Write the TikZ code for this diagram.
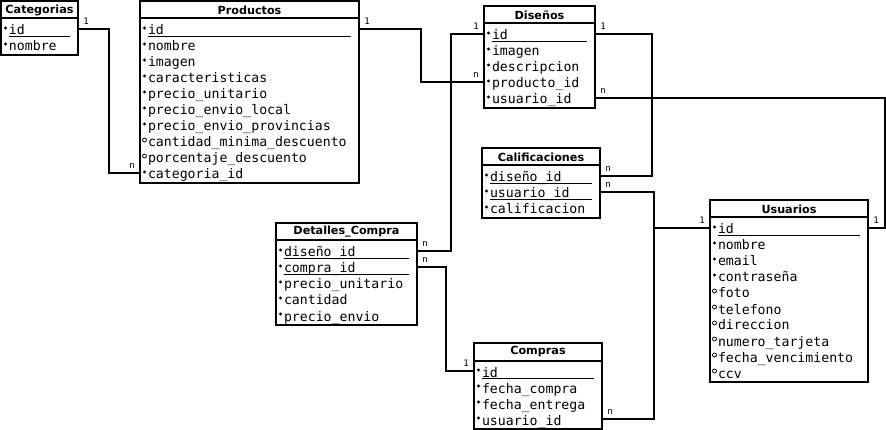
\documentclass[tikz,border=0pt]{standalone}
\usepackage{fontspec}
\newfontfamily\monof{DejaVu Sans Mono}
\newfontfamily\titlef{DejaVu Sans}
\usetikzlibrary{calc}
\tikzset{
 tbox/.style={draw, line width=2pt, inner sep=0pt, outer sep=0pt, anchor=north west, fill=white},
 ttl/.style={font=\titlef\bfseries\fontsize{11.2}{13}\selectfont, inner sep=0pt},
 erow/.style={anchor=west, inner sep=0pt, outer sep=0pt, text height=14pt, text depth=2pt, font=\monof\fontsize{13.2}{16}\selectfont},
 hline/.style={line width=2pt},
 uline/.style={line width=1pt},
 conn/.style={line width=2pt},
 card/.style={font=\monof\fontsize{9}{9}\selectfont, inner sep=0pt},
 cardR/.style={card, anchor=base west, xshift=4.3pt, yshift=4.3pt},
 cardL/.style={card, anchor=base east, xshift=-4.3pt, yshift=4.3pt},
}
\newcommand\etable[6]{% name, x, y, width, height, title
  \node[tbox, minimum width=#4pt, minimum height=#5pt] (#1) at (#2,#3) {};
  \draw[hline] ($(#1.north west)+(0,17.5)$) -- ($(#1.north east)+(0,17.5)$);
  \node[ttl] (#1-h) at ($(#1.north)+(0,9)$) {#6};
}
\newcommand\rowpk[4]{%
  \node[erow] (#1) at ($(#2.north west)+(8,28+16*#3)$) {#4};
  \fill ($(#2.north west)+(4.5,27+16*#3)$) circle (1.7pt);
  \draw[uline] ($(#2.north west)+(8,35.5+16*#3)$) -- ($(#2.north east)+(-8,35.5+16*#3)$);
}
\newcommand\rowf[4]{%
  \node[erow] (#1) at ($(#2.north west)+(8,28+16*#3)$) {#4};
  \fill ($(#2.north west)+(4.5,27+16*#3)$) circle (1.7pt);
}
\newcommand\rowo[4]{%
  \node[erow] (#1) at ($(#2.north west)+(8,28+16*#3)$) {#4};
  \draw[line width=0.75pt] ($(#2.north west)+(4.5,27+16*#3)$) circle (2pt);
}
\begin{document}
\begin{tikzpicture}[x=1pt,y=-1pt]
\useasboundingbox (0,0) rectangle (886,430);

% Categorias
\etable{cat}{1}{1}{77}{54}{Categorias}
\rowpk{cat-id}{cat}{0}{id}
\rowf{cat-nombre}{cat}{1}{nombre}

% Productos
\etable{prod}{140}{1}{219}{182}{Productos}
\rowpk{prod-id}{prod}{0}{id}
\rowf{prod-nombre}{prod}{1}{nombre}
\rowf{prod-imagen}{prod}{2}{imagen}
\rowf{prod-carac}{prod}{3}{caracteristicas}
\rowf{prod-precio}{prod}{4}{precio\_unitario}
\rowf{prod-envlocal}{prod}{5}{precio\_envio\_local}
\rowf{prod-envprov}{prod}{6}{precio\_envio\_provincias}
\rowo{prod-cantmin}{prod}{7}{cantidad\_minima\_descuento}
\rowo{prod-porc}{prod}{8}{porcentaje\_descuento}
\rowf{prod-catid}{prod}{9}{categoria\_id}

% Diseños
\etable{dis}{484}{6}{111}{102}{Diseños}
\rowpk{dis-id}{dis}{0}{id}
\rowf{dis-imagen}{dis}{1}{imagen}
\rowf{dis-desc}{dis}{2}{descripcion}
\rowf{dis-prodid}{dis}{3}{producto\_id}
\rowf{dis-usuid}{dis}{4}{usuario\_id}

% Calificaciones
\etable{cal}{482}{148}{118}{70}{Calificaciones}
\rowpk{cal-disid}{cal}{0}{diseño\_id}
\rowpk{cal-usuid}{cal}{1}{usuario\_id}
\rowf{cal-calif}{cal}{2}{calificacion}

% Detalles_Compra
\etable{det}{276}{223}{141}{102}{Detalles\_Compra}
\rowpk{det-disid}{det}{0}{diseño\_id}
\rowpk{det-comid}{det}{1}{compra\_id}
\rowf{det-precio}{det}{2}{precio\_unitario}
\rowf{det-cant}{det}{3}{cantidad}
\rowf{det-envio}{det}{4}{precio\_envio}

% Usuarios
\etable{usu}{710}{200}{158}{182}{Usuarios}
\rowpk{usu-id}{usu}{0}{id}
\rowf{usu-nombre}{usu}{1}{nombre}
\rowf{usu-email}{usu}{2}{email}
\rowf{usu-pass}{usu}{3}{contraseña}
\rowo{usu-foto}{usu}{4}{foto}
\rowo{usu-tel}{usu}{5}{telefono}
\rowo{usu-dir}{usu}{6}{direccion}
\rowo{usu-tarj}{usu}{7}{numero\_tarjeta}
\rowo{usu-venc}{usu}{8}{fecha\_vencimiento}
\rowo{usu-ccv}{usu}{9}{ccv}

% Compras
\etable{com}{474}{343}{128}{86}{Compras}
\rowpk{com-id}{com}{0}{id}
\rowf{com-fcompra}{com}{1}{fecha\_compra}
\rowf{com-fentrega}{com}{2}{fecha\_entrega}
\rowf{com-usuid}{com}{3}{usuario\_id}

% Connectors
\draw[conn] (cat.east |- cat-id) node[cardR]{1} -- ++(31,0) |- (prod.west |- prod-catid) node[cardL]{n};
\draw[conn] (prod.east |- prod-id) node[cardR]{1} -- ++(62,0) |- (dis.west |- dis-prodid) node[cardL]{n};
\draw[conn] (dis.west |- dis-id) node[cardL]{1} -- ++(-33,0) |- (det.east |- det-disid) node[cardR]{n};
\draw[conn] (dis.east |- dis-id) node[cardR]{1} -- ++(57,0) |- (cal.east |- cal-disid) node[cardR]{n};
\draw[conn] (dis.east |- dis-usuid) node[cardR]{n} -- ++(290,0) |- (usu.east |- usu-id) node[cardR]{1};
\draw[conn] (cal.east |- cal-usuid) node[cardR]{n} -- ++(54,0) |- (usu.west |- usu-id) node[cardL]{1};
\draw[conn] (com.east |- com-usuid) node[cardR]{n} -- ++(52,0) |- (usu.west |- usu-id);
\draw[conn] (det.east |- det-comid) node[cardR]{n} -- ++(29,0) |- (com.west |- com-id) node[cardL]{1};
\end{tikzpicture}
\end{document}
